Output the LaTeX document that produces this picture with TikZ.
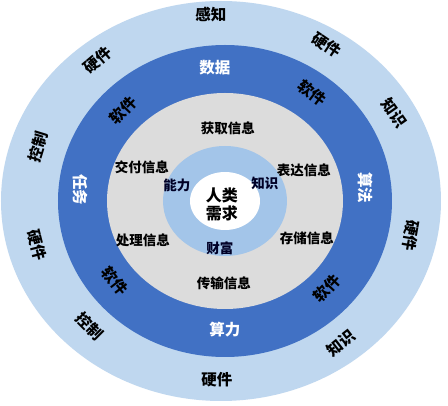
\documentclass[tikz,border=0pt]{standalone}
\usepackage{fontspec}
\setmainfont{Noto Sans CJK SC}
\definecolor{outerblue}{HTML}{BFD7EF}
\definecolor{ringblue}{HTML}{4171C4}
\definecolor{ringgray}{HTML}{DCDCDC}
\definecolor{innerblue}{HTML}{A3C5E9}

\begin{document}
\begin{tikzpicture}[x=1pt,y=1pt,
  ring/.style={draw=none},
  outerlbl/.style={font=\fontsize{15.5}{17}\selectfont\bfseries, text=black, inner sep=0pt},
  softlbl/.style={font=\fontsize{15.5}{17}\selectfont\bfseries, text=black, inner sep=0pt},
  corelbl/.style={font=\fontsize{15.5}{17}\selectfont\bfseries, text=white, inner sep=0pt},
  infolbl/.style={font=\fontsize{13.5}{15}\selectfont\bfseries, text=black, inner sep=0pt},
  valuelbl/.style={font=\fontsize{13.5}{15}\selectfont\bfseries, text=black!85!blue, inner sep=0pt},
  needlbl/.style={font=\fontsize{16}{18}\selectfont\bfseries, text=black, align=center, inner sep=0pt}]
\useasboundingbox[fill=white] (-225,-205) rectangle (223,201);

% rings
\fill[ring, outerblue] (-4,0) ellipse [x radius=220, y radius=200];
\fill[ring, ringblue] (0,0) ellipse [x radius=167, y radius=156];
\fill[ring, ringgray] (0,0) ellipse [x radius=118, y radius=108];
\fill[ring, innerblue] (0,0) ellipse [x radius=62, y radius=55];
\fill[ring, white] (0,0) ellipse [x radius=35, y radius=29];

% outer ring
\node[outerlbl] (perceive) at (-14,186) {感知};
\node[outerlbl, rotate=-34] (hwa) at (102,156) {硬件};
\node[outerlbl, rotate=-55] (knowa) at (169,88) {知识};
\node[outerlbl, rotate=-100] (hwb) at (186,-35) {硬件};
\node[outerlbl, rotate=38] (knowb) at (116,-142) {知识};
\node[outerlbl] (hwc) at (-8,-179) {硬件};
\node[outerlbl, rotate=-45] (ctrla) at (-135,-125) {控制};
\node[outerlbl, rotate=-76] (hwd) at (-188,-44) {硬件};
\node[outerlbl, rotate=73] (ctrlb) at (-187,54) {控制};
\node[outerlbl, rotate=40] (hwe) at (-127,141) {硬件};

% dark ring
\node[corelbl] (data) at (-10,133) {数据};
\node[softlbl, rotate=-37] (swa) at (87,108) {软件};
\node[corelbl, rotate=-90] (algo) at (140,13) {算法};
\node[softlbl, rotate=47] (swb) at (102,-87) {软件};
\node[corelbl] (power) at (0,-129) {算力};
\node[softlbl, rotate=-52] (swc) at (-110,-80) {软件};
\node[corelbl, rotate=-90] (task) at (-145,11) {任务};
\node[softlbl, rotate=46] (swd) at (-102,91) {软件};

% gray ring
\node[infolbl] (get) at (3,73) {获取信息};
\node[infolbl] (deliver) at (-83,34) {交付信息};
\node[infolbl] (express) at (79,31) {表达信息};
\node[infolbl] (process) at (-82,-39) {处理信息};
\node[infolbl] (store) at (82,-37) {存储信息};
\node[infolbl] (transfer) at (-1,-82) {传输信息};

% inner ring
\node[valuelbl] (ability) at (-48,16) {能力};
\node[valuelbl] (knowc) at (40,18) {知识};
\node[valuelbl] (wealth) at (-5,-47) {财富};

% centre
\node[needlbl] (need) at (-3,-3) {人类\\需求};
\end{tikzpicture}
\end{document}
